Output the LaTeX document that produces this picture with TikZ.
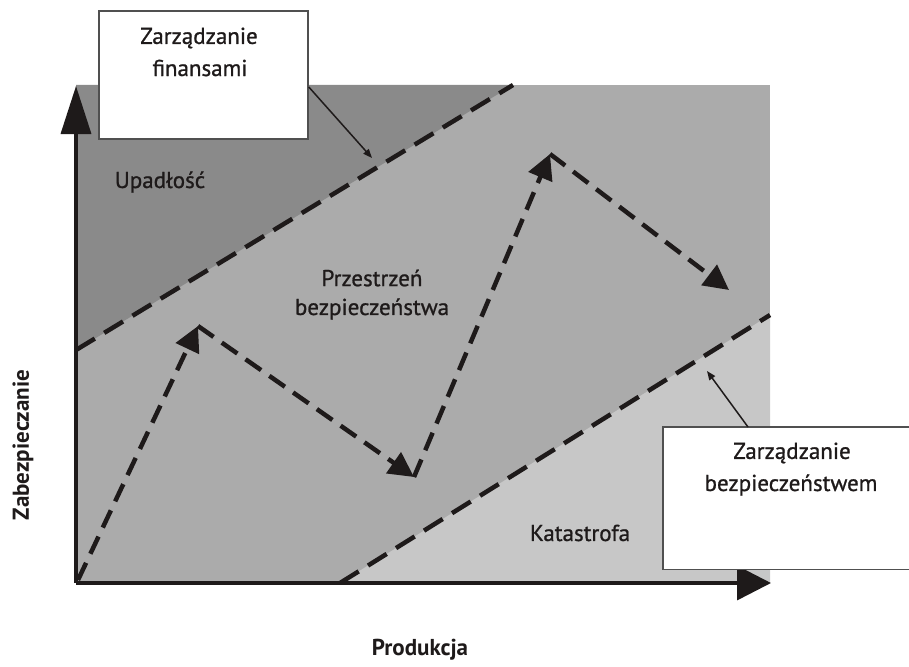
\documentclass[tikz,border=0pt]{standalone}
\usepackage{fontspec}
\setmainfont{PT Sans}
\newfontfamily\lblfont{PT Sans}[FakeBold=0.9]
\usetikzlibrary{arrows.meta}
\definecolor{zoneDark}{HTML}{8A8A8A}
\definecolor{zoneMid}{HTML}{ABABAB}
\definecolor{zoneLight}{HTML}{C7C7C7}
\definecolor{inkDark}{HTML}{1E1A1A}
\definecolor{boxLine}{HTML}{505050}
\tikzset{
  boundary/.style={draw=inkDark, line width=4.5pt, dash pattern=on 22pt off 11pt},
  zig/.style={draw=inkDark, line width=4.5pt, dash pattern=on 19pt off 10pt,
    -{Triangle[length=25pt,width=25pt]}},
  axisline/.style={draw=inkDark, line width=3.5pt},
  callout/.style={draw=inkDark, line width=1.5pt, -{Triangle[length=9pt,width=7pt]}},
  lbl/.style={font=\lblfont\fontsize{23}{26}\selectfont, text=inkDark, inner sep=0pt},
  lblb/.style={font=\fontsize{23}{26}\selectfont\bfseries, text=inkDark, inner sep=0pt},
}
\begin{document}
\begin{tikzpicture}[x=1pt,y=-1pt]
\useasboundingbox (0,0) rectangle (909,666);
% zones
\fill[zoneMid] (76,85) rectangle (770,583);
\fill[zoneDark] (76,85) -- (513,85) -- (76,350) -- cycle;
\fill[zoneLight] (340,583) -- (770,315) -- (770,583) -- cycle;
% boundaries
\coordinate (b1s) at (76,350);
\coordinate (b1e) at (513,85);
\coordinate (b2s) at (340,583);
\coordinate (b2e) at (770,315);
\draw[boundary] (b1s) -- (b1e);
\draw[boundary] (b2s) -- (b2e);
% axes
\coordinate (O) at (76,583);
\coordinate (Ytip) at (76,86);
\coordinate (Xtip) at (771,583);
\draw[axisline, -{Triangle[length=48pt,width=30pt]}] (O) -- (Ytip);
\draw[axisline, -{Triangle[length=34pt,width=34pt]}] (O) -- (Xtip);
% zigzag
\coordinate (p0) at (78,580);
\coordinate (p1) at (198,326);
\coordinate (p2) at (414,477);
\coordinate (p3) at (550,154);
\coordinate (p4) at (729,290);
\draw[zig] (p0) -- (p1);
\draw[zig] (p1) -- (p2);
\draw[zig] (p2) -- (p3);
\draw[zig] (p3) -- (p4);
% box 1
\node[draw=boxLine, line width=1.8pt, fill=white, minimum width=209pt, minimum height=128pt, anchor=north west, inner sep=0pt] (fin) at (98,10) {};
\node[lbl] (fin1) at (199,38) {Zarządzanie};
\node[lbl] (fin2) at (200,68) {finansami};
\coordinate (finT) at (372,158);
\draw[callout] (fin.east |- 0,87) -- (finT);
% box 2
\node[fill=white, minimum width=246pt, minimum height=142pt, anchor=north west, inner sep=0pt] (bez) at (663,427) {};
\draw[boxLine, line width=1.8pt] (bez.north east) -- (bez.north west) -- (bez.south west) -- (bez.south east);
\node[lbl] (bez1) at (792,453) {Zarządzanie};
\node[lbl] (bez2) at (791,485) {bezpieczeństwem};
\coordinate (bezT) at (707,371);
\draw[callout] (748,427) -- (bezT);
% labels
\node[lbl] (upad) at (160,182) {Upadłość};
\node[lbl] (prz1) at (372,278) {Przestrzeń};
\node[lbl] (prz2) at (372,309) {bezpieczeństwa};
\node[lbl] (kat) at (580,533) {Katastrofa};
\node[lblb, rotate=90] (yl) at (23,445) {Zabezpieczanie};
\node[lblb] (xl) at (420,650) {Produkcja};
\end{tikzpicture}
\end{document}
